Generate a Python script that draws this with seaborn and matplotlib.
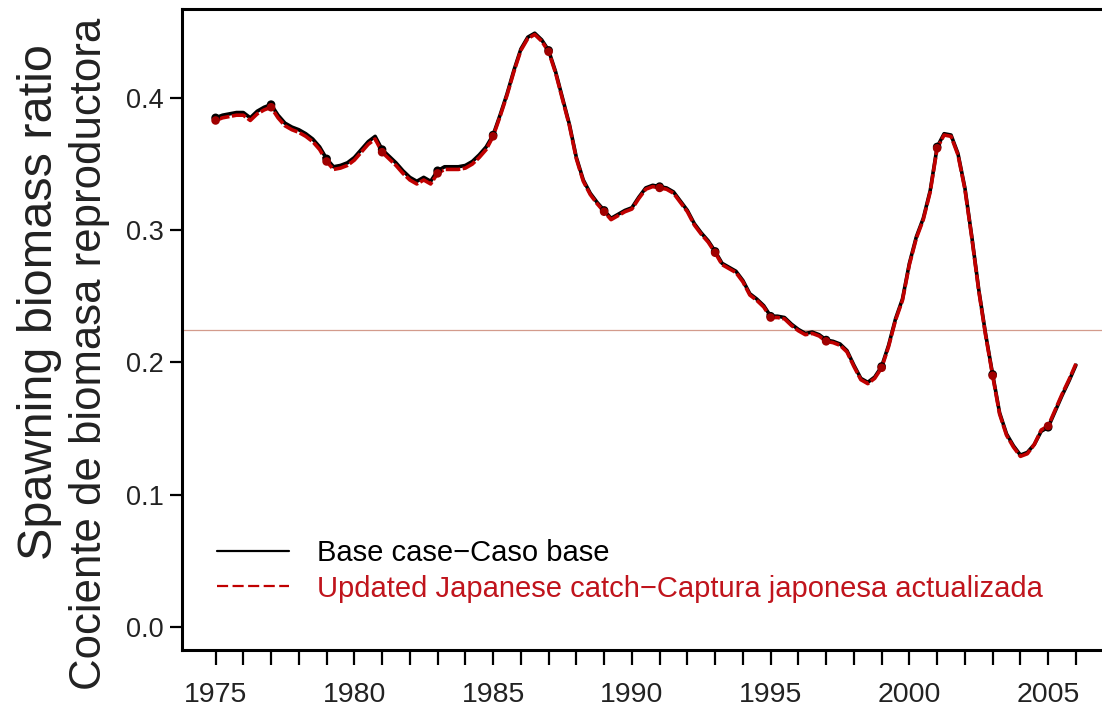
import numpy as np
import pandas as pd
import seaborn as sns
import matplotlib.pyplot as plt

# quarterly time axis, 1975.00 ... 2006.00
years = np.arange(1975, 2006.01, 0.25)

base_case = [
    0.385, 0.387, 0.388, 0.389, 0.389, 0.385, 0.390, 0.393,  # 1975-76
    0.395, 0.387, 0.381, 0.378, 0.376, 0.373, 0.369, 0.363,  # 1977-78
    0.354, 0.348, 0.349, 0.351, 0.355, 0.361, 0.367, 0.371,  # 1979-80
    0.361, 0.356, 0.351, 0.345, 0.340, 0.337, 0.340, 0.337,  # 1981-82
    0.345, 0.348, 0.348, 0.348, 0.349, 0.352, 0.357, 0.363,  # 1983-84
    0.372, 0.387, 0.403, 0.421, 0.437, 0.446, 0.449, 0.444,  # 1985-86
    0.436, 0.420, 0.400, 0.380, 0.355, 0.338, 0.328, 0.321,  # 1987-88
    0.315, 0.309, 0.312, 0.315, 0.317, 0.325, 0.332, 0.334,  # 1989-90
    0.333, 0.332, 0.329, 0.322, 0.315, 0.305, 0.298, 0.292,  # 1991-92
    0.284, 0.275, 0.272, 0.269, 0.262, 0.252, 0.248, 0.243,  # 1993-94
    0.235, 0.235, 0.234, 0.229, 0.225, 0.222, 0.223, 0.221,  # 1995-96
    0.217, 0.216, 0.214, 0.209, 0.198, 0.188, 0.185, 0.189,  # 1997-98
    0.197, 0.213, 0.233, 0.248, 0.275, 0.295, 0.309, 0.330,  # 1999-00
    0.363, 0.373, 0.372, 0.358, 0.332, 0.295, 0.255, 0.221,  # 2001-02
    0.191, 0.162, 0.146, 0.137, 0.130, 0.132, 0.138, 0.148,  # 2003-04
    0.151, 0.163, 0.175, 0.186, 0.198,                       # 2005-06
]

updated_japan = [
    0.383, 0.385, 0.386, 0.387, 0.387, 0.383, 0.388, 0.391,
    0.393, 0.385, 0.379, 0.376, 0.374, 0.371, 0.367, 0.361,
    0.352, 0.346, 0.347, 0.349, 0.353, 0.359, 0.365, 0.369,
    0.359, 0.354, 0.349, 0.343, 0.338, 0.335, 0.338, 0.335,
    0.343, 0.346, 0.346, 0.346, 0.347, 0.350, 0.355, 0.361,
    0.371, 0.386, 0.402, 0.420, 0.436, 0.445, 0.448, 0.443,
    0.435, 0.419, 0.399, 0.379, 0.354, 0.337, 0.327, 0.320,
    0.314, 0.308, 0.311, 0.314, 0.316, 0.324, 0.331, 0.333,
    0.332, 0.331, 0.328, 0.321, 0.314, 0.304, 0.297, 0.291,
    0.283, 0.274, 0.271, 0.268, 0.261, 0.251, 0.247, 0.242,
    0.234, 0.234, 0.233, 0.228, 0.224, 0.221, 0.222, 0.220,
    0.216, 0.215, 0.213, 0.208, 0.197, 0.187, 0.184, 0.188,
    0.196, 0.212, 0.232, 0.247, 0.274, 0.294, 0.308, 0.329,
    0.362, 0.372, 0.371, 0.357, 0.331, 0.294, 0.254, 0.220,
    0.190, 0.161, 0.145, 0.136, 0.129, 0.131, 0.138, 0.149,
    0.152, 0.164, 0.176, 0.187, 0.199,
]

reference_level = 0.2245

labels = ["Base case\u2212Caso base",
          "Updated Japanese catch\u2212Captura japonesa actualizada"]
red = "#c00000"

df = pd.DataFrame({"year": years, "base": base_case, "updated": updated_japan})
# dots on the odd years
dots = df[(df["year"] % 2 == 1)]

sns.set_theme(style="ticks")
plt.rcParams['font.family'] = ['Liberation Sans', 'DejaVu Sans']

fig = plt.figure(figsize=(11.02, 7.12), dpi=100)
ax = fig.add_axes([182 / 1102, 62 / 712, 920 / 1102, 641 / 712])

ax.axhline(reference_level, color="#d39b8c", lw=0.9, zorder=1)

sns.lineplot(data=df, x="year", y="base", color="black", lw=2.6,
             label=labels[0], ax=ax, zorder=3)
sns.lineplot(data=df, x="year", y="updated", color=red, lw=2.6,
             dashes=False, label=labels[1], ax=ax, zorder=4)
ax.lines[-1].set_dashes((4, 0.7))

sns.scatterplot(data=dots, x="year", y="base", color="black", s=38,
                edgecolor="none", ax=ax, zorder=5, legend=False)
sns.scatterplot(data=dots, x="year", y="updated", color="#a00000", s=38,
                edgecolor="none", ax=ax, zorder=6, legend=False)

ax.set_xlim(1973.79, 2006.94)
ax.set_ylim(-0.0174, 0.4673)
ax.set_xticks(np.arange(1975, 2006, 5))
ax.set_xticks(np.arange(1975, 2007, 1), minor=True)
ax.set_yticks([0.0, 0.1, 0.2, 0.3, 0.4])
ax.set_yticklabels(["0.0", "0.1", "0.2", "0.3", "0.4"])
ax.tick_params(axis="both", which="both", direction="out", width=1.6,
               color="black", labelcolor="#222222")
ax.tick_params(axis="x", which="both", length=11, pad=12, labelsize=20.5)
ax.tick_params(axis="y", which="major", length=9, pad=4, labelsize=19.5)

for side in ["left", "bottom", "top"]:
    ax.spines[side].set_linewidth(2.2)
    ax.spines[side].set_color("black")
ax.spines["right"].set_visible(False)

ax.set_xlabel("")
ax.set_ylabel("")

leg = ax.legend(loc="lower left", bbox_to_anchor=(0.010, 0.033), frameon=False,
                fontsize=21, handlelength=2.47, handletextpad=0.96,
                labelspacing=0.27, labelcolor=["black", "#c0141c"])
leg.get_lines()[0].set_linewidth(1.6)
leg.get_lines()[1].set_linewidth(1.6)
leg.get_lines()[1].set_dashes((5, 2))

fig.text(40 / 1102, 1 - 302 / 712, "Spawning biomass ratio", rotation=90,
         ha="center", va="center", fontsize=35, color="#222222")
fig.text(90 / 1102, 1 - 354 / 712, "Cociente de biomasa reproductora",
         rotation=90, ha="center", va="center", fontsize=31.5, color="#222222")

fig.savefig("out.png", dpi=100)
